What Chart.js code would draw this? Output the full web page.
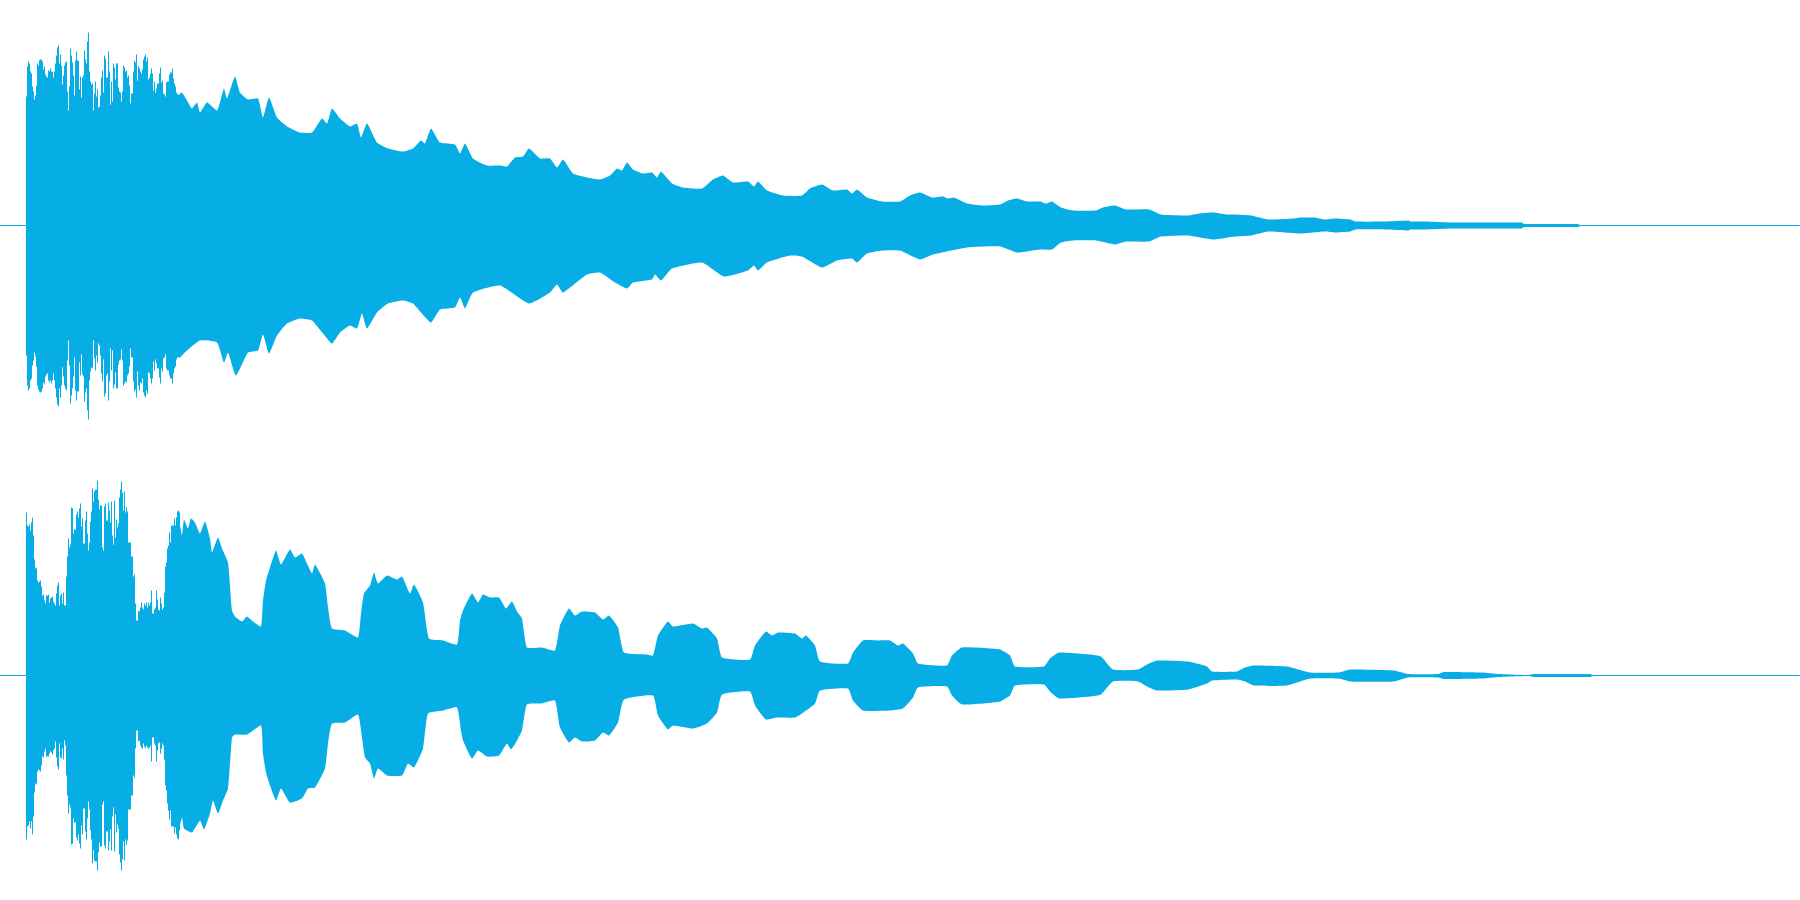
<!DOCTYPE html>
<html>
<head>
<meta charset="utf-8">
<title>waveform</title>
<script src="https://cdn.jsdelivr.net/npm/chart.js@4/dist/chart.umd.min.js"></script>
<style>
  html, body { margin: 0; padding: 0; background: #fff; }
  canvas { display: block; }
</style>
</head>
<body>
<canvas id="left_channel" width="1800" height="450"></canvas>
<canvas id="right_channel" width="1800" height="450"></canvas>
<script>
// time axis runs 0-1800, level axis is about +-225 (full scale)
const wave_color = '#07aee6'
const time_range = [0, 1800]
const level_range = [-224.5, 225.5]
const silence_time = [0, 1800]
const silence_level = [0, 0]

// attack part, one value per time step, shared time list
const head_time = [26,27,28,29,30,31,32,33,34,35,36,37,38,39,40,41,42,43,44,45,46,47,48,49,50,51,52,53,54,55,56,57,58,59,60,61,62,63,64,65,66,67,68,69,70,71,72,73,74,75,76,77,78,79,80,81,82,83,84,85,86,87,88,89,90,91,92,93,94,95,96,97,98,99,100,101,102,103,104,105,106,107,108,109,110,111,112,113,114,115,116,117,118,119,120,121,122,123,124,125,126,127,128,129,130,131,132,133,134,135,136,137,138,139,140,141,142,143,144,145,146,147,148,149,150,151,152,153,154,155,156,157,158,159,160,161,162,163,164,165,166,167,168,169,170,171,172,173,174,175,176,177,178,179,180]
const left_head_hi = [129,159,164,162,154,152,139,134,126,130,140,162,160,165,166,166,164,156,159,151,149,148,155,154,157,154,154,148,154,162,170,178,180,162,171,160,141,150,160,163,164,134,115,139,177,170,163,150,130,165,174,165,165,136,149,128,148,150,175,166,162,184,193,154,144,141,142,115,132,144,129,136,118,119,130,148,155,133,170,167,148,148,174,154,121,144,124,162,158,146,162,162,138,134,133,124,134,160,158,154,155,148,150,140,122,132,132,154,165,163,171,145,159,157,154,152,156,166,169,171,164,168,146,148,152,157,152,135,144,133,137,142,142,152,158,143,145,132,131,129,143,144,144,151,153,153,157,147,142,139,133,131,131,131,132]
const left_head_lo = [-130,-160,-165,-163,-155,-153,-140,-135,-127,-131,-141,-160,-164,-166,-167,-166,-163,-157,-159,-151,-149,-148,-155,-157,-155,-158,-155,-148,-155,-163,-172,-179,-181,-163,-172,-160,-142,-151,-160,-163,-165,-135,-115,-140,-178,-170,-163,-151,-132,-165,-175,-166,-166,-137,-150,-129,-149,-151,-176,-167,-163,-185,-194,-155,-146,-142,-143,-115,-133,-145,-130,-137,-118,-120,-130,-148,-156,-134,-171,-168,-150,-148,-175,-156,-123,-145,-125,-163,-159,-147,-163,-163,-139,-135,-134,-124,-135,-160,-158,-156,-157,-150,-148,-141,-123,-132,-132,-156,-166,-164,-172,-146,-160,-165,-157,-158,-153,-167,-170,-172,-165,-168,-147,-148,-153,-158,-153,-136,-145,-134,-138,-143,-143,-152,-158,-143,-146,-133,-132,-129,-143,-145,-145,-150,-153,-153,-158,-148,-143,-141,-134,-132,-132,-132,-132]
const right_head_hi = [163,150,149,151,145,153,158,140,116,107,108,95,93,94,95,89,80,81,75,72,80,80,81,73,77,78,79,74,72,70,82,90,93,70,80,82,72,83,70,70,99,119,137,128,131,168,167,142,146,146,161,164,158,167,172,149,157,132,132,155,164,142,125,133,154,164,187,174,184,186,186,195,176,166,170,170,128,125,169,172,155,155,173,165,153,174,140,131,175,138,156,148,152,178,186,194,183,165,184,163,168,164,133,133,133,119,119,99,101,72,55,55,65,64,68,73,68,66,72,70,73,68,73,70,73,85,62,62,66,68,85,76,66,65,78,72,66,68,83,109,113,127,130,143,133,150,150,150,157,150,158,164,165,163,150]
const right_head_lo = [-164,-151,-150,-146,-153,-146,-159,-141,-117,-108,-109,-96,-94,-95,-96,-90,-81,-82,-76,-73,-81,-81,-81,-78,-76,-77,-79,-75,-73,-66,-82,-91,-94,-68,-82,-83,-73,-84,-65,-70,-100,-120,-138,-129,-132,-169,-168,-143,-147,-147,-162,-165,-159,-168,-173,-150,-159,-133,-133,-156,-164,-143,-126,-134,-155,-164,-188,-175,-185,-186,-186,-195,-177,-167,-171,-171,-129,-126,-170,-173,-156,-156,-175,-166,-154,-175,-141,-132,-176,-139,-157,-149,-153,-179,-187,-195,-184,-166,-185,-164,-169,-165,-134,-134,-134,-120,-120,-100,-102,-73,-55,-55,-66,-65,-70,-72,-73,-68,-71,-73,-70,-72,-73,-72,-70,-86,-62,-62,-68,-70,-86,-75,-68,-67,-78,-73,-68,-70,-84,-110,-115,-128,-135,-144,-135,-151,-151,-151,-158,-152,-159,-163,-164,-155,-150]

// decay part, left channel
const left_hi_time = [180,182,187,192,197,200,207,217,221,224,227,235,240,248,258,263,269,277,287,300,312,322,327,332,340,350,357,361,367,377,388,403,413,421,425,431,440,455,460,465,473,487,500,507,515,523,529,540,550,557,563,573,587,600,610,617,622,627,633,643,652,657,661,672,683,702,713,723,733,748,754,758,767,783,802,810,822,833,847,852,857,867,882,900,910,920,932,943,948,954,967,983,1000,1008,1017,1027,1040,1046,1052,1061,1073,1096,1103,1115,1126,1149,1161,1188,1199,1213,1226,1235,1251,1268,1294,1300,1314,1325,1335,1350,1356,1385,1409,1410,1425,1452,1522,1524,1578,1580]
const left_hi = [132,133,125,117,123,113,123,115,127,137,127,149,133,126,127,108,128,108,99,93,93,107,102,117,107,99,102,88,102,83,77,74,77,85,82,97,83,81,72,82,67,60,60,59,68,69,77,67,67,58,66,52,48,46,50,57,55,63,56,52,53,48,54,42,38,37,46,50,43,44,39,44,35,30,30,37,41,35,36,32,36,28,24,24,30,33,28,29,27,28,22,20,21,25,27,24,24,22,24,18,15,15,18,20,16,16,11,10,12,13,11,11,10,6,7,8,8,6,7,6,4,4,5,4,4,3,3,1.5,1.5,0.5]
const left_lo_time = [180,187,200,217,224,228,236,248,258,263,269,277,287,300,312,323,332,340,350,357,362,367,377,388,403,413,421,431,440,455,460,465,473,500,529,550,557,563,587,600,615,627,633,652,655,661,672,702,724,748,754,758,767,790,802,822,837,852,857,867,882,900,920,933,967,1000,1017,1040,1052,1061,1073,1096,1115,1126,1149,1161,1188,1213,1235,1251,1268,1300,1325,1335,1350,1356,1385,1409,1410,1425,1452,1522,1524,1578,1580]
const left_lo = [-132,-125,-115,-117,-137,-127,-150,-127,-125,-109,-128,-110,-98,-93,-95,-108,-118,-107,-100,-103,-88,-103,-87,-78,-75,-78,-87,-97,-84,-82,-72,-83,-67,-60,-78,-67,-59,-67,-49,-47,-57,-63,-57,-54,-49,-55,-43,-37,-51,-45,-40,-45,-37,-30,-31,-42,-35,-33,-37,-28,-25,-25,-34,-29,-22,-21,-27,-24,-24,-17,-15,-15,-19,-16,-16,-11,-10,-14,-11,-10,-6,-8,-6,-7,-6,-4,-4,-5,-4,-4,-3,-3,-1.5,-1.5,-0.5]

// decay part, right channel
const right_hi_time = [180,182,184,188,191,195,200,205,210,212,218,222,228,232,235,242,247,253,261,263,266,270,276,281,290,295,302,307,312,315,325,328,332,345,358,361,364,370,374,378,387,397,402,410,414,423,429,443,457,460,463,472,478,483,490,499,506,512,517,522,527,542,555,560,569,575,582,595,603,609,618,624,647,653,658,668,673,693,702,707,717,722,750,755,766,772,778,795,802,806,815,820,848,853,863,877,890,898,903,913,918,947,952,962,1000,1010,1015,1044,1050,1059,1090,1101,1113,1138,1147,1157,1188,1207,1212,1237,1245,1254,1287,1310,1339,1350,1394,1408,1438,1444,1482,1499,1528,1534,1591,1592]
const right_hi = [150,140,156,147,157,153,142,154,137,123,138,127,113,65,59,54,59,54,49,75,95,108,125,111,126,118,122,112,102,111,92,68,47,45,38,62,82,90,103,92,100,96,99,82,91,73,37,35,31,55,65,82,73,81,78,78,67,74,64,57,28,28,25,50,67,60,64,63,56,60,48,23,21,20,40,54,49,52,47,48,37,18,16,30,44,40,43,42,37,40,30,14,12,23,35,35,35,30,32,22,12,10,20,28,26,20,9,9,17,23,21,19,6,6,11,15,14,9,4,4,8,10,9,3,3,6,5,1.5,1.5,3.5,3,1.5,0.5,1.5,1.5,0.5]
const right_lo_time = [180,182,184,192,200,204,210,213,218,223,228,232,235,247,261,263,266,270,276,281,290,302,308,315,325,328,332,345,358,362,365,370,374,378,387,402,408,414,423,428,443,457,461,463,472,478,487,499,507,511,517,522,527,542,555,560,569,575,582,595,603,609,618,624,653,658,668,673,693,707,717,722,750,755,766,777,795,802,815,820,848,853,863,890,903,913,918,947,952,962,1000,1010,1015,1044,1050,1059,1090,1101,1113,1138,1147,1157,1188,1207,1212,1237,1245,1254,1287,1310,1339,1350,1394,1408,1438,1444,1482,1499,1528,1534,1591,1592]
const right_lo = [-150,-142,-153,-157,-145,-154,-138,-125,-138,-125,-113,-62,-59,-59,-50,-78,-97,-110,-125,-113,-127,-123,-113,-112,-93,-68,-48,-47,-39,-62,-82,-88,-103,-93,-100,-100,-88,-92,-73,-38,-35,-32,-55,-65,-83,-75,-81,-80,-68,-74,-65,-55,-29,-28,-25,-52,-67,-62,-66,-65,-57,-60,-47,-24,-20,-40,-54,-50,-53,-48,-37,-19,-16,-30,-44,-42,-42,-38,-28,-15,-13,-25,-35,-35,-33,-22,-12,-11,-20,-29,-26,-20,-10,-9,-16,-23,-21,-19,-6,-6,-11,-15,-14,-8,-5,-4,-6,-10,-10,-3,-3,-6,-6,-2,-2,-3.5,-3,-1.5,-0.5,-1.5,-1.5,-0.5]

// x と y を点のリストにまとめる
function toPoints(times, levels) {
  return times.map((t, i) => ({ x: t, y: levels[i] }))
}

// attack は階段状、decay はなめらかに塗る
function headSet(levels) {
  return {
    data: toPoints(head_time, levels),
    backgroundColor: wave_color,
    borderWidth: 0,
    pointRadius: 0,
    stepped: true,
    fill: 'origin',
  }
}

function tailSet(times, levels) {
  return {
    data: toPoints(times, levels),
    backgroundColor: wave_color,
    borderWidth: 0,
    pointRadius: 0,
    tension: 0.15,
    fill: 'origin',
  }
}

function drawChannel(id, head_hi, head_lo, hi_time, hi, lo_time, lo) {
  const ctx = document.getElementById(id).getContext('2d')
  return new Chart(ctx, {
    type: 'line',
    data: {
      datasets: [
        {
          data: toPoints(silence_time, silence_level),
          borderColor: wave_color,
          borderWidth: 1,
          pointRadius: 0,
          fill: false,
        },
        headSet(head_hi),
        headSet(head_lo),
        tailSet(hi_time, hi),
        tailSet(lo_time, lo),
      ],
    },
    options: {
      responsive: false,
      animation: false,
      layout: { padding: 0 },
      plugins: { legend: { display: false }, tooltip: { enabled: false } },
      scales: {
        x: { type: 'linear', display: false, min: time_range[0], max: time_range[1] },
        y: { display: false, min: level_range[0], max: level_range[1] },
      },
    },
  })
}

const left_chart = drawChannel('left_channel', left_head_hi, left_head_lo, left_hi_time, left_hi, left_lo_time, left_lo)
const right_chart = drawChannel('right_channel', right_head_hi, right_head_lo, right_hi_time, right_hi, right_lo_time, right_lo)
</script>
</body>
</html>
